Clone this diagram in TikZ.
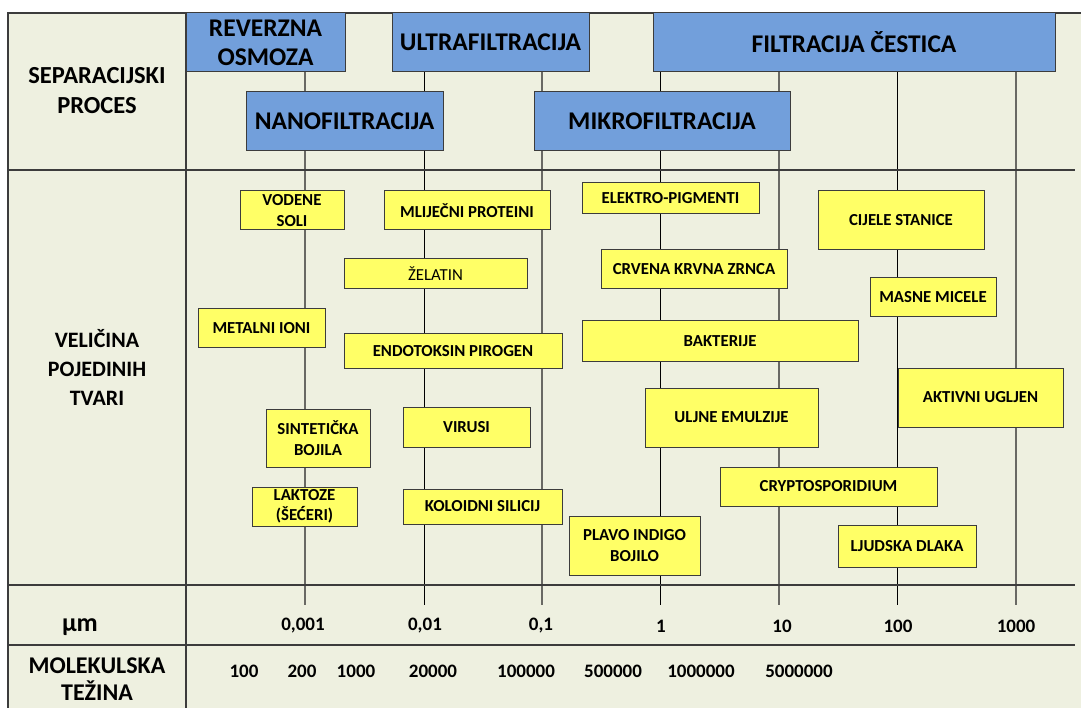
\documentclass[tikz,border=0pt]{standalone}
\usepackage{fontspec}
\setmainfont{Carlito}
\definecolor{bgolive}{RGB}{238,240,224}
\definecolor{procblue}{RGB}{114,159,219}
\definecolor{itemyellow}{RGB}{255,255,102}
\definecolor{framegray}{RGB}{60,60,60}
\definecolor{linegray}{RGB}{105,105,100}

\begin{document}
\begin{tikzpicture}[x=1pt, y=-1pt,
  procbox/.style={draw=framegray, fill=procblue, line width=1pt, inner sep=0pt, align=center, font=\bfseries\fontsize{25.5}{29}\selectfont},
  itembox/.style={draw=framegray, fill=itemyellow, line width=1pt, inner sep=0pt, align=center, font=\bfseries\fontsize{16.8}{20.5}\selectfont},
  rowlabel/.style={align=center, font=\bfseries\fontsize{24.5}{30}\selectfont},
  scalelabel/.style={font=\bfseries\fontsize{19}{22}\selectfont},
  gridgray/.style={draw=linegray, line width=1.5pt},
  gridblack/.style={draw=black, line width=1pt},
  frameline/.style={draw=framegray, line width=1.3pt}]
  \useasboundingbox (0,0) rectangle (1081,708);
  \fill [bgolive] (8,13) rectangle (1081,708);
  % skala
  \draw [gridgray] (305,13) -- (305,605);
  \draw [gridblack] (424,13) -- (424,605);
  \draw [gridgray] (542,13) -- (542,605);
  \draw [gridblack] (660,13) -- (660,605);
  \draw [gridgray] (779,13) -- (779,605);
  \draw [gridblack] (897,13) -- (897,605);
  \draw [gridgray] (1016,13) -- (1016,605);
  % okvir
  \draw [frameline] (8,708) -- (8,13) -- (1081,13);
  \draw [frameline] (186,13) -- (186,708);
  \draw [frameline] (8,170) -- (1075,170);
  \draw [frameline] (8,585) -- (1075,585);
  \draw [frameline] (8,645) -- (1075,645);
  % separacijski procesi
  \node [procbox, minimum width=159pt, minimum height=59pt] (ro) at (265.5,42.5) {REVERZNA\\OSMOZA};
  \node [procbox, minimum width=197pt, minimum height=59pt] (nf) at (344.5,121.5) {NANOFILTRACIJA};
  \node [procbox, minimum width=197pt, minimum height=59pt] (uf) at (490.5,42.5) {ULTRAFILTRACIJA};
  \node [procbox, minimum width=256pt, minimum height=59pt] (mf) at (662,121.5) {MIKROFILTRACIJA};
  \node [procbox, minimum width=402pt, minimum height=59pt] (fc) at (854,42.5) {FILTRACIJA ČESTICA};
  % tvari
  \node [itembox, minimum width=104pt, minimum height=39pt] (vs) at (292,210.5) {VODENE\\SOLI};
  \node [itembox, minimum width=166pt, minimum height=39pt] (mp) at (467,210.5) {MLIJEČNI PROTEINI};
  \node [itembox, minimum width=183pt, minimum height=30pt, font=\mdseries\fontsize{16.8}{20}\selectfont] (ze) at (435.5,274) {ŽELATIN};
  \node [itembox, minimum width=127pt, minimum height=39pt] (mi) at (261.5,328.5) {METALNI IONI};
  \node [itembox, minimum width=218pt, minimum height=34pt] (ep) at (453,351) {ENDOTOKSIN PIROGEN};
  \node [itembox, minimum width=177pt, minimum height=31pt] (el) at (670.5,198.5) {ELEKTRO-PIGMENTI};
  \node [itembox, minimum width=166pt, minimum height=59pt] (cs) at (901,220.5) {CIJELE STANICE};
  \node [itembox, minimum width=186pt, minimum height=39pt] (kz) at (694,269.5) {CRVENA KRVNA ZRNCA};
  \node [itembox, minimum width=126pt, minimum height=39pt] (mm) at (933,297.5) {MASNE MICELE};
  \node [itembox, minimum width=276pt, minimum height=40pt] (ba) at (720,341) {BAKTERIJE};
  \node [itembox, minimum width=165pt, minimum height=59pt] (au) at (980.5,397.5) {AKTIVNI UGLJEN};
  \node [itembox, minimum width=173pt, minimum height=59pt] (ue) at (731.5,417.5) {ULJNE EMULZIJE};
  \node [itembox, minimum width=104pt, minimum height=58pt] (sb) at (318,438) {SINTETIČKA\\BOJILA};
  \node [itembox, minimum width=127pt, minimum height=40pt] (vi) at (466.5,427) {VIRUSI};
  \node [itembox, minimum width=105pt, minimum height=39pt] (la) at (304.5,506.5) {LAKTOZE\\(ŠEĆERI)};
  \node [itembox, minimum width=159pt, minimum height=35pt] (ks) at (482.5,506.5) {KOLOIDNI SILICIJ};
  \node [itembox, minimum width=131pt, minimum height=59pt] (pi) at (634.5,545.5) {PLAVO INDIGO\\BOJILO};
  \node [itembox, minimum width=217pt, minimum height=39pt] (cr) at (828.5,486.5) {CRYPTOSPORIDIUM};
  \node [itembox, minimum width=138pt, minimum height=42pt] (lj) at (907,546) {LJUDSKA DLAKA};
  % oznake redova
  \node [rowlabel] (sp) at (97,91) {SEPARACIJSKI\\PROCES};
  \node [rowlabel, font=\bfseries\fontsize{22}{29}\selectfont] (vt) at (97,367) {VELIČINA\\POJEDINIH\\TVARI};
  \node [rowlabel, font=\bfseries\fontsize{26}{30}\selectfont] (um) at (80,627) {µm};
  \node [rowlabel, font=\bfseries\fontsize{24}{27}\selectfont] (mt) at (97,679) {MOLEKULSKA\\TEŽINA};
  % velicina u mikrometrima
  \node [scalelabel] (u1) at (303,626) {0,001};
  \node [scalelabel] (u2) at (425,626) {0,01};
  \node [scalelabel] (u3) at (541,626) {0,1};
  \node [scalelabel] (u4) at (661,626) {1};
  \node [scalelabel] (u5) at (782,626) {10};
  \node [scalelabel] (u6) at (898,626) {100};
  \node [scalelabel] (u7) at (1016,626) {1000};
  % molekulska tezina
  \node [scalelabel] (m1) at (244,671) {100};
  \node [scalelabel] (m2) at (302,671) {200};
  \node [scalelabel] (m3) at (356,671) {1000};
  \node [scalelabel] (m4) at (433,671) {20000};
  \node [scalelabel] (m5) at (526,671) {100000};
  \node [scalelabel] (m6) at (613,671) {500000};
  \node [scalelabel] (m7) at (701,671) {1000000};
  \node [scalelabel] (m8) at (799,671) {5000000};
\end{tikzpicture}
\end{document}
